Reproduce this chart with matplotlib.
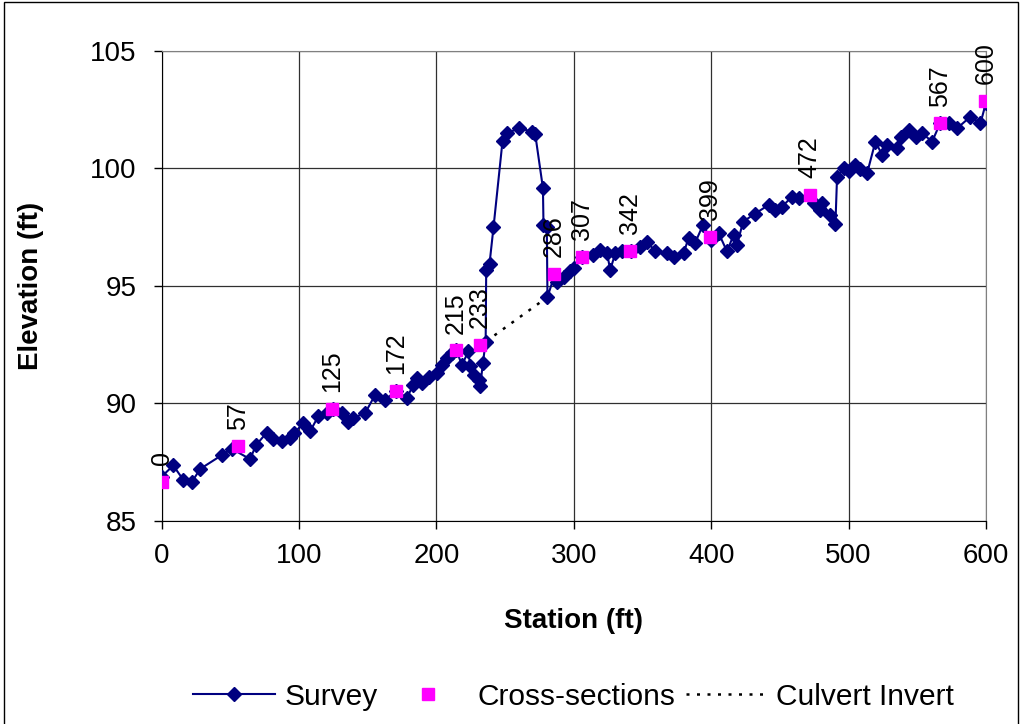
import numpy as np
import matplotlib
matplotlib.use("Agg")
import matplotlib.pyplot as plt
from matplotlib.patches import Rectangle

plt.rcParams['font.family'] = ['Liberation Sans', 'DejaVu Sans']

# survey points (station, elevation)
survey_sta = [0.0, 8.4, 15.7, 21.8, 27.9, 43.7, 51.0, 64.3, 68.7, 76.5,
              81.3, 87.4, 93.4, 96.4, 103.1, 108.0, 114.1, 120.2, 124.5, 131.1,
              135.9, 139.5, 148.1, 155.4, 162.6, 170.8, 178.4, 183.2, 185.7, 189.4,
              194.2, 200.3, 203.9, 207.6, 211.2, 214.5, 218.5, 223.3, 224.5, 227.0,
              230.6, 231.8, 233.8, 235.8, 236.2, 238.6, 241.5, 248.1, 251.3, 260.2,
              269.5, 271.9, 277.5, 277.9, 280.3, 280.8, 285.9, 287.7, 292.5, 297.3,
              299.8, 306.0, 314.3, 319.2, 324.1, 326.5, 330.2, 335.0, 341.3, 348.3,
              353.3, 359.3, 367.8, 372.6, 379.9, 383.5, 388.4, 394.0, 399.9, 405.4,
              411.5, 416.3, 418.8, 423.2, 431.5, 441.8, 446.7, 451.6, 458.8, 463.7,
              474.6, 479.5, 480.7, 486.8, 490.4, 491.6, 496.4, 500.1, 504.9, 508.5,
              513.5, 519.5, 524.4, 528.0, 535.3, 537.8, 543.8, 548.7, 553.5, 560.8,
              566.6, 572.9, 579.0, 588.7, 596.0, 600.0]
survey_elev = [86.89, 87.36, 86.75, 86.64, 87.21, 87.80, 88.07, 87.63, 88.23, 88.76,
               88.48, 88.42, 88.53, 88.74, 89.16, 88.81, 89.47, 89.61, 89.77, 89.59,
               89.23, 89.38, 89.59, 90.37, 90.15, 90.54, 90.23, 90.79, 91.08, 90.86,
               91.14, 91.29, 91.64, 91.93, 92.14, 92.25, 91.64, 92.21, 91.57, 91.22,
               91.00, 90.72, 91.71, 92.63, 95.68, 95.93, 97.48, 101.17, 101.49, 101.70,
               101.56, 101.44, 99.15, 97.60, 97.50, 94.52, 95.45, 95.18, 95.39, 95.61,
               95.75, 96.24, 96.32, 96.53, 96.39, 95.68, 96.39, 96.46, 96.50, 96.67,
               96.88, 96.46, 96.39, 96.24, 96.39, 97.03, 96.84, 97.59, 96.95, 97.24,
               96.46, 97.17, 96.74, 97.73, 98.05, 98.44, 98.23, 98.37, 98.79, 98.73,
               98.51, 98.23, 98.51, 98.02, 97.62, 99.64, 100.00, 99.86, 100.14, 99.98,
               99.79, 101.13, 100.57, 100.99, 100.85, 101.34, 101.63, 101.34, 101.49, 101.13,
               101.91, 101.91, 101.70, 102.19, 101.91, 102.79]

# cross-section locations and their labels
xs_sta = [0.0, 55.8, 123.8, 170.6, 214.3, 231.8, 285.7, 305.9, 341.1, 398.8, 471.7, 566.4, 599.6]
xs_elev = [86.66, 88.17, 89.77, 90.54, 92.25, 92.49, 95.50, 96.24, 96.50, 97.09, 98.87, 101.91, 102.86]
xs_labels = ['0', '57', '125', '172', '215', '233', '286', '307', '342', '399', '472', '567', '600']

# culvert invert
culvert_sta = [236.0, 280.8]
culvert_elev = [92.63, 94.52]

fig = plt.figure(figsize=(10.21, 7.24), dpi=100)
ax = fig.add_axes([0.1584, 0.2804, 0.8073, 0.6497])

ax.plot(survey_sta, survey_elev, color='#000080', lw=1.5, marker='D', ms=7.5,
        mec='#000080', mfc='#000080', label='Survey', zorder=3)
ax.plot(xs_sta, xs_elev, ls='none', marker='s', ms=9, color='#FF00FF',
        label='Cross-sections', zorder=4)
ax.plot(culvert_sta, culvert_elev, color='black', ls=(0, (1.2, 3)), lw=1.8,
        label='Culvert Invert', zorder=2)

for s, e, lab in zip(xs_sta, xs_elev, xs_labels):
    ax.annotate(lab, (s, e), xytext=(0, 12), textcoords='offset points',
                rotation=90, ha='center', va='bottom', fontsize=18, zorder=5)

ax.set_xlim(0, 600)
ax.set_ylim(85, 105)
ax.set_xticks(np.arange(0, 601, 100))
ax.set_yticks(np.arange(85, 106, 5))
ax.grid(True, color='#303030', lw=0.9)
ax.set_axisbelow(True)
ax.tick_params(direction='out', length=6, width=1, labelsize=20, color='black')
ax.tick_params(axis='y', pad=12)
ax.tick_params(axis='x', pad=10)

ax.spines['top'].set_color('#808080')
ax.spines['right'].set_color('#808080')
ax.spines['left'].set_color('black')
ax.spines['bottom'].set_color('black')

ax.set_xlabel('Station (ft)', fontsize=20, fontweight='bold', va='center')
ax.set_ylabel('Elevation (ft)', fontsize=20, fontweight='bold', va='center')
ax.xaxis.set_label_coords(0.5, -0.2126)
ax.yaxis.set_label_coords(-0.158, 0.5)

ax.legend(loc='center', bbox_to_anchor=(0.5, -0.374), ncol=3, frameon=False,
          fontsize=21.5, handlelength=2.74, handletextpad=0.3, columnspacing=0.33)

# outer chart border
fig.patches.append(Rectangle((4 / 1021, -0.05), 1014 / 1021, 1.05 - 2 / 724,
                             transform=fig.transFigure, fill=False,
                             edgecolor='black', lw=1))

fig.savefig('out.png', dpi=100)
